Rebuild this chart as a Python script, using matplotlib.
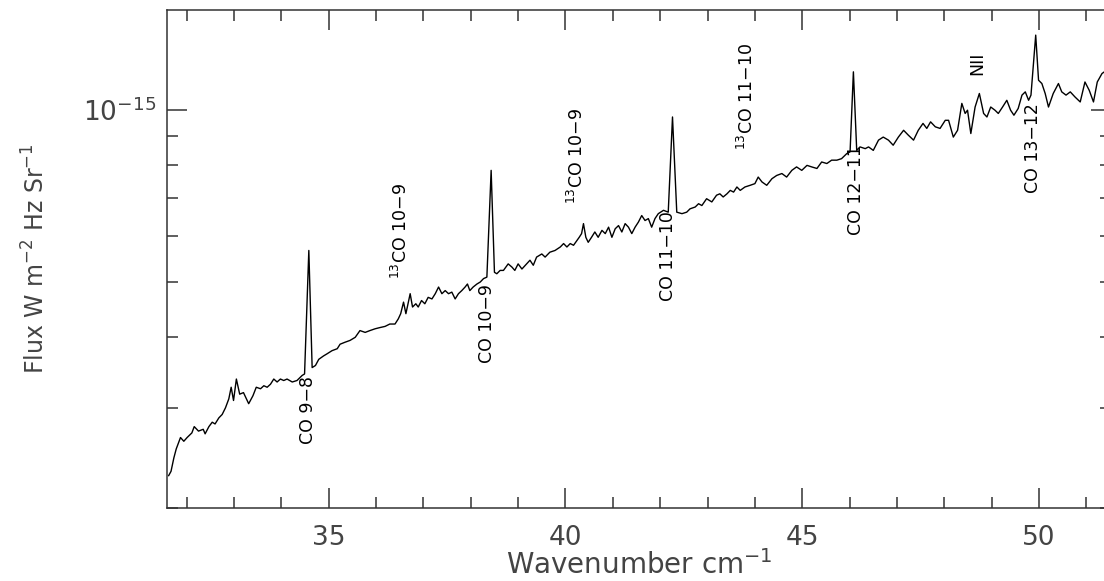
import matplotlib
matplotlib.use("Agg")
import matplotlib.pyplot as plt
import numpy as np
from matplotlib.ticker import FixedLocator, MultipleLocator, NullFormatter, LogFormatterSciNotation

# spectrum: wavenumber (cm^-1) and flux in units of 1e-16
wavenumber = [
    31.62, 31.67, 31.73, 31.78, 31.87, 31.94, 32.01, 32.11, 32.16, 32.25,
    32.35, 32.39, 32.47, 32.54, 32.60, 32.68, 32.75, 32.82, 32.89, 32.94,
    32.99, 33.05, 33.12, 33.20, 33.31, 33.40, 33.47, 33.56, 33.63, 33.70,
    33.77, 33.84, 33.91, 33.98, 34.05, 34.12, 34.23, 34.33, 34.44, 34.49,
    34.58, 34.65, 34.72, 34.79, 34.89, 34.96, 35.07, 35.18, 35.24, 35.34,
    35.45, 35.56, 35.66, 35.77, 35.87, 35.98, 36.08, 36.19, 36.29, 36.40,
    36.47, 36.52, 36.58, 36.63, 36.72, 36.77, 36.84, 36.89, 36.96, 37.03,
    37.10, 37.18, 37.25, 37.32, 37.39, 37.46, 37.53, 37.60, 37.67, 37.74,
    37.81, 37.88, 37.93, 37.98, 38.05, 38.13, 38.20, 38.27, 38.34, 38.43,
    38.50, 38.55, 38.62, 38.69, 38.79, 38.87, 38.93, 39.00, 39.08, 39.18,
    39.25, 39.32, 39.39, 39.50, 39.57, 39.67, 39.78, 39.89, 39.96, 40.03,
    40.10, 40.17, 40.24, 40.29, 40.34, 40.38, 40.43, 40.48, 40.55, 40.62,
    40.69, 40.77, 40.84, 40.91, 40.98, 41.05, 41.12, 41.19, 41.26, 41.33,
    41.40, 41.47, 41.54, 41.61, 41.68, 41.75, 41.82, 41.89, 41.96, 42.07,
    42.17, 42.26, 42.35, 42.46, 42.56, 42.63, 42.74, 42.81, 42.88, 42.98,
    43.09, 43.19, 43.26, 43.33, 43.41, 43.48, 43.55, 43.62, 43.69, 43.79,
    43.90, 44.00, 44.07, 44.15, 44.25, 44.36, 44.46, 44.57, 44.67, 44.78,
    44.88, 44.99, 45.10, 45.20, 45.31, 45.41, 45.52, 45.62, 45.73, 45.83,
    45.94, 46.01, 46.08, 46.15, 46.22, 46.33, 46.40, 46.50, 46.61, 46.71,
    46.82, 46.92, 47.03, 47.14, 47.24, 47.35, 47.45, 47.55, 47.63, 47.71,
    47.81, 47.91, 48.02, 48.09, 48.19, 48.28, 48.37, 48.44, 48.49, 48.56,
    48.65, 48.74, 48.83, 48.90, 48.98, 49.07, 49.14, 49.23, 49.32, 49.40,
    49.47, 49.56, 49.64, 49.71, 49.78, 49.83, 49.93, 49.99, 50.06, 50.13,
    50.20, 50.30, 50.41, 50.48, 50.57, 50.66, 50.76, 50.87, 50.97, 51.06,
    51.15, 51.23, 51.33, 51.38,
]
flux_e16 = [
    2.28, 2.32, 2.45, 2.54, 2.66, 2.62, 2.66, 2.71, 2.78, 2.73,
    2.75, 2.70, 2.78, 2.83, 2.81, 2.88, 2.92, 3.00, 3.11, 3.26,
    3.09, 3.37, 3.17, 3.19, 3.05, 3.15, 3.26, 3.24, 3.28, 3.26,
    3.30, 3.37, 3.33, 3.37, 3.35, 3.37, 3.33, 3.35, 3.42, 3.44,
    5.67, 3.53, 3.56, 3.65, 3.70, 3.73, 3.78, 3.81, 3.88, 3.91,
    3.94, 3.99, 4.10, 4.07, 4.10, 4.13, 4.15, 4.17, 4.21, 4.21,
    4.30, 4.39, 4.60, 4.39, 4.76, 4.51, 4.57, 4.51, 4.63, 4.57,
    4.69, 4.66, 4.76, 4.89, 4.76, 4.82, 4.76, 4.79, 4.66, 4.76,
    4.82, 4.89, 4.95, 4.82, 4.89, 4.95, 4.99, 5.06, 5.09, 7.84,
    5.19, 5.16, 5.23, 5.23, 5.37, 5.30, 5.23, 5.37, 5.26, 5.37,
    5.45, 5.34, 5.52, 5.59, 5.52, 5.63, 5.67, 5.75, 5.83, 5.75,
    5.83, 5.79, 5.90, 5.98, 6.07, 6.32, 5.98, 5.86, 5.98, 6.11,
    5.98, 6.15, 6.07, 6.23, 5.98, 6.19, 6.27, 6.11, 6.32, 6.23,
    6.07, 6.23, 6.36, 6.53, 6.40, 6.45, 6.23, 6.45, 6.58, 6.67,
    6.62, 9.73, 6.62, 6.58, 6.62, 6.71, 6.76, 6.85, 6.80, 6.99,
    6.90, 7.09, 7.13, 7.04, 7.13, 7.23, 7.18, 7.33, 7.23, 7.33,
    7.38, 7.43, 7.63, 7.48, 7.38, 7.58, 7.68, 7.74, 7.63, 7.84,
    7.95, 7.84, 8.00, 7.95, 7.90, 8.11, 8.06, 8.17, 8.17, 8.22,
    8.39, 8.45, 11.68, 8.50, 8.62, 8.56, 8.62, 8.50, 8.86, 8.97,
    8.86, 8.68, 8.97, 9.22, 9.04, 8.86, 9.22, 9.48, 9.29, 9.54,
    9.35, 9.29, 9.60, 9.60, 8.97, 9.22, 10.28, 9.87, 10.00, 9.10,
    10.13, 10.70, 9.87, 9.73, 10.13, 10.00, 9.87, 10.13, 10.41, 10.00,
    9.80, 10.07, 10.63, 10.77, 10.41, 10.63, 13.55, 11.29, 11.14, 10.70,
    10.13, 10.70, 11.14, 10.77, 10.63, 10.77, 10.55, 10.34, 11.21, 10.84,
    10.34, 11.21, 11.60, 11.68,
]

# line identifications
line_names = ["CO 9\u22128", "$^{13}$CO 10\u22129", "CO 10\u22129", "$^{13}$CO 10\u22129",
              "CO 11\u221210", "$^{13}$CO 11\u221210", "CO 12\u221211", "NII", "CO 13\u221212"]
name_wn = [34.57, 36.52, 38.34, 40.25, 42.17, 43.84, 46.13, 48.70, 49.87]
name_flux_e16 = [2.59, 5.06, 3.60, 6.85, 4.63, 8.50, 6.03, 11.52, 7.14]

x_ticks = [35, 40, 45, 50]

flux = np.array(flux_e16) * 1e-16

fig = plt.figure(figsize=(11.04, 5.81), dpi=100)
ax = fig.add_axes([167 / 1104, 73 / 581, 944 / 1104, 498 / 581])

ax.plot(wavenumber, flux, color="black", lw=1.0)

for name, xw, yf in zip(line_names, name_wn, name_flux_e16):
    ax.text(xw, yf * 1e-16, name, rotation=90, ha="center", va="bottom",
            fontsize=12.5, color="black")

ax.set_yscale("log")
ax.set_xlim(31.585, 51.52)
ax.set_ylim(2e-16, 1.5e-15)

ax.xaxis.set_major_locator(FixedLocator(x_ticks))
ax.xaxis.set_minor_locator(MultipleLocator(1))
ax.yaxis.set_major_locator(FixedLocator([1e-15]))
ax.yaxis.set_major_formatter(LogFormatterSciNotation())
ax.yaxis.set_minor_locator(FixedLocator([k * 1e-16 for k in range(2, 10)]))
ax.yaxis.set_minor_formatter(NullFormatter())

ax.tick_params(which="both", direction="in", top=True, right=True,
               color="#333333", width=1.1, labelcolor="#444444", labelsize=19)
ax.tick_params(which="major", length=14.4)
ax.tick_params(which="minor", length=7.9)
ax.tick_params(axis="x", pad=12)
ax.tick_params(axis="y", pad=8)

for s in ax.spines.values():
    s.set_color("#333333")
    s.set_linewidth(1.1)

ax.set_xlabel("Wavenumber cm$^{-1}$", fontsize=20, color="#444444")
ax.set_ylabel("Flux W m$^{-2}$ Hz Sr$^{-1}$", fontsize=17, color="#444444")
ax.xaxis.set_label_coords(0.5, -0.084)
ax.yaxis.set_label_coords(-0.124, 0.5)

fig.savefig("out.png", dpi=100)
